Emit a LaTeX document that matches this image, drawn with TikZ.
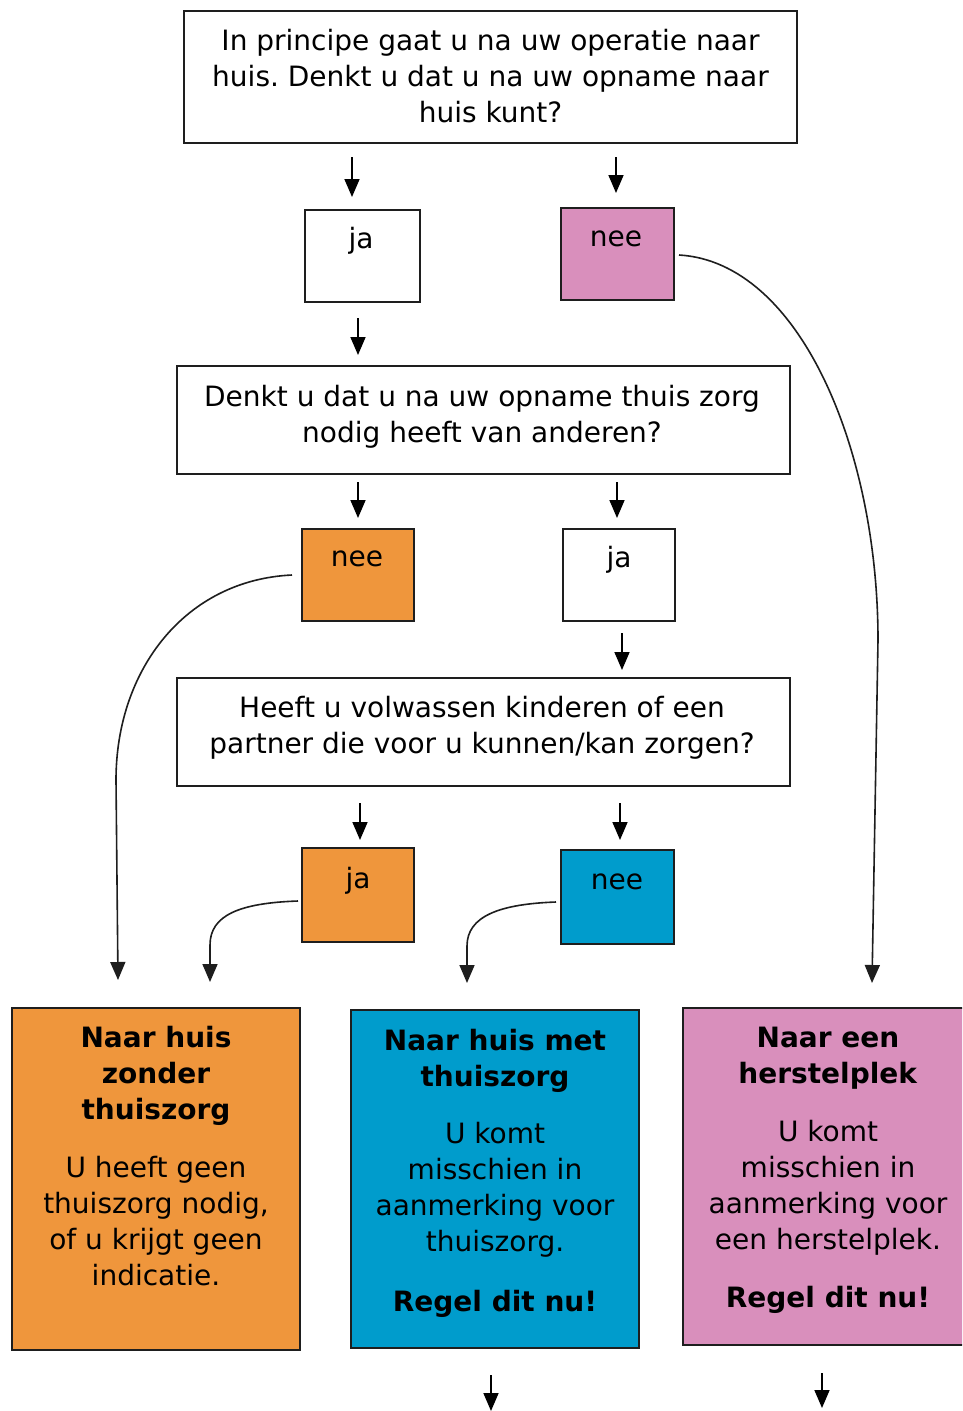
\documentclass[tikz,border=0pt]{standalone}
\usepackage{fontspec}
\setmainfont{DejaVu Sans}
\usetikzlibrary{arrows.meta}
\definecolor{cOrange}{RGB}{239,150,60}
\definecolor{cBlue}{RGB}{0,156,204}
\definecolor{cPink}{RGB}{217,143,188}
\definecolor{cLine}{RGB}{30,30,30}
\tikzset{
  box/.style={draw=cLine, line width=1.8pt, inner sep=0pt, outer sep=0pt, rectangle},
  txt/.style={anchor=base, inner sep=0pt, outer sep=0pt, font=\fontsize{28}{36}\selectfont, text=black},
  arr/.style={draw=black, line width=1.7pt, -{Triangle[width=15pt,length=18pt]}},
  curv/.style={draw=cLine, line width=1.6pt, -{Triangle[width=15pt,length=18pt]}},
}
\newcommand{\ml}[1]{\begin{tabular}[t]{@{}c@{}}#1\end{tabular}}
\frenchspacing
\begin{document}
\begin{tikzpicture}[x=1pt,y=-1pt]
\useasboundingbox (0,0) rectangle (962,1411);
\clip (0,0) rectangle (962,1411);
\fill[white] (0,0) rectangle (962,1411);

% question boxes
\node[box, minimum width=613pt, minimum height=132pt] (q1) at (490.5,77) {};
\node[txt] (q1t) at (490.5,50) {\ml{In principe gaat u na uw operatie naar\\ huis. Denkt u dat u na uw opname naar\\ huis kunt?}};

\node[box, minimum width=613pt, minimum height=108pt] (q2) at (483.5,420) {};
\node[txt] (q2t) at (482,406) {\ml{Denkt u dat u na uw opname thuis zorg\\ nodig heeft van anderen?}};

\node[box, minimum width=613pt, minimum height=108pt] (q3) at (483.5,732) {};
\node[txt] (q3t) at (482,717) {\ml{Heeft u volwassen kinderen of een\\ partner die voor u kunnen/kan zorgen?}};

% answer boxes
\node[box, minimum width=115pt, minimum height=92pt] (ja1) at (362.5,256) {};
\node[txt] (ja1t) at (361,248) {ja};
\node[box, fill=cPink, minimum width=113pt, minimum height=92pt] (nee1) at (617.5,254) {};
\node[txt] (nee1t) at (616,246) {nee};

\node[box, fill=cOrange, minimum width=112pt, minimum height=92pt] (nee2) at (358,575) {};
\node[txt] (nee2t) at (357,566) {nee};
\node[box, minimum width=112pt, minimum height=92pt] (ja2) at (619,575) {};
\node[txt] (ja2t) at (619,567) {ja};

\node[box, fill=cOrange, minimum width=112pt, minimum height=94pt] (ja3) at (358,895) {};
\node[txt] (ja3t) at (358,888) {ja};
\node[box, fill=cBlue, minimum width=113pt, minimum height=94pt] (nee3) at (617.5,897) {};
\node[txt] (nee3t) at (617,889) {nee};

% outcome boxes
\node[box, fill=cOrange, minimum width=288pt, minimum height=342pt] (oa) at (156,1179) {};
\node[txt] (oat) at (156,1047) {\ml{\textbf{Naar huis}\\ \textbf{zonder}\\ \textbf{thuiszorg}\\[22pt] U heeft geen\\ thuiszorg nodig,\\ of u krijgt geen\\ indicatie.}};

\node[box, fill=cBlue, minimum width=288pt, minimum height=338pt] (ob) at (495,1179) {};
\node[txt] (obt) at (495,1050) {\ml{\textbf{Naar huis met}\\ \textbf{thuiszorg}\\[21pt] U komt\\ misschien in\\ aanmerking voor\\ thuiszorg.\\[24pt] \textbf{Regel dit nu!}}};

\node[box, fill=cPink, minimum width=290pt, minimum height=337pt] (oc) at (828,1176.5) {};
\node[txt] (oct) at (828,1047) {\ml{\textbf{Naar een}\\ \textbf{herstelplek}\\[22pt] U komt\\ misschien in\\ aanmerking voor\\ een herstelplek.\\[22pt] \textbf{Regel dit nu!}}};

% free arrows
\coordinate (a1s) at (352,157);  \coordinate (a1e) at (352,197);
\coordinate (a2s) at (616,157);  \coordinate (a2e) at (616,193);
\coordinate (a3s) at (358,318);  \coordinate (a3e) at (358,355);
\coordinate (a4s) at (358,482);  \coordinate (a4e) at (358,518);
\coordinate (a5s) at (617,482);  \coordinate (a5e) at (617,518);
\coordinate (a6s) at (622,633);  \coordinate (a6e) at (622,670);
\coordinate (a7s) at (360,803);  \coordinate (a7e) at (360,840);
\coordinate (a8s) at (620,803);  \coordinate (a8e) at (620,840);
\coordinate (a9s) at (491,1375); \coordinate (a9e) at (491,1411);
\coordinate (a10s) at (822,1373); \coordinate (a10e) at (822,1408);
\foreach \i in {1,...,10} {\draw[arr] (a\i s) -- (a\i e);}

% curved connectors
\coordinate (c1s) at (292,575);  \coordinate (c1e) at (118,980);
\draw[curv] (c1s) .. controls (185,580) and (116,670) .. (116,780) -- (c1e);
\coordinate (c2s) at (298,901);  \coordinate (c2e) at (210,982);
\draw[curv] (c2s) .. controls (240,903) and (210,915) .. (210,945) -- (c2e);
\coordinate (c3s) at (556,902);  \coordinate (c3e) at (467,983);
\draw[curv] (c3s) .. controls (500,904) and (467,916) .. (467,946) -- (c3e);
\coordinate (c4s) at (679,255);  \coordinate (c4e) at (872,983);
\draw[curv] (c4s) .. controls (800,262) and (878,450) .. (878,640) -- (c4e);
\end{tikzpicture}
\end{document}
